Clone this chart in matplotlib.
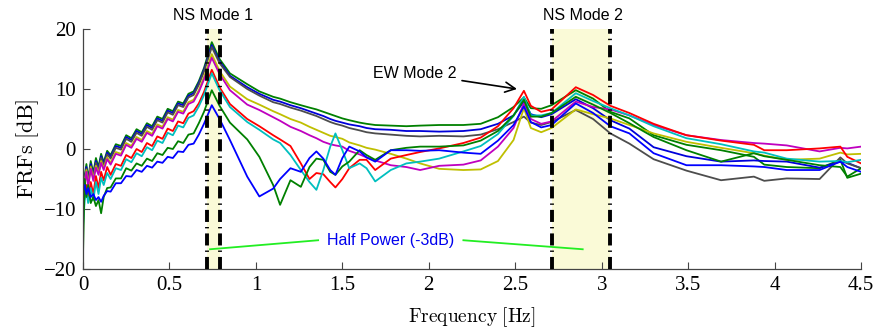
import numpy as np
import matplotlib.pyplot as plt

plt.rcParams['mathtext.fontset'] = 'cm'

# frequency grid [Hz]
freq = [0, 0.01, 0.02, 0.03, 0.045, 0.06, 0.075, 0.09, 0.105, 0.12, 0.14,
        0.16, 0.19, 0.22, 0.25, 0.28, 0.31, 0.34, 0.37, 0.40, 0.43, 0.46, 0.49, 0.52, 0.55,
        0.58, 0.61, 0.64, 0.67,
        0.7, 0.745, 0.79, 0.85, 0.95, 1.02, 1.1, 1.14, 1.2, 1.26, 1.31,
        1.35, 1.39, 1.43, 1.46, 1.5, 1.54, 1.6, 1.64, 1.69, 1.78, 1.87, 1.95, 2.06, 2.2, 2.3,
        2.4, 2.49, 2.55, 2.59, 2.65, 2.71, 2.85, 2.95, 3.05, 3.16, 3.3, 3.49, 3.69, 3.88, 3.94,
        4.07, 4.26, 4.38, 4.42, 4.5]

# FRF magnitudes [dB] per sensor
frf_green1 = [-8, -4.5, -2.5, -5.0, -2.0, -4.0, -1.5, -3.0, -0.8, -2.2, -0.3,
              -1.0, 0.8, 0.5, 2.3, 1.8, 3.3, 2.8, 4.3, 3.8, 5.4, 5.0, 6.7, 6.3, 7.9,
              7.6, 9.2, 9.6, 11.3,
              13.5, 17.8, 15.0, 12.6, 10.8, 9.6, 8.7, 8.4, 7.8, 7.3, 6.9,
              6.6, 6.2, 5.8, 5.5, 5.1, 4.8, 4.4, 4.2, 4.0, 3.9, 3.8, 3.9, 4.0, 4.0, 4.2,
              5.3, 7.0, 8.6, 6.8, 6.7, 7.3, 9.8, 8.4, 6.2, 5.1, 2.3, 0.7, -0.2, -1.3, -2.6,
              -3.0, -3.2, -1.8, -4.8, -4.1]
frf_blue1 = [-8.5, -5.0, -3.0, -5.5, -2.5, -4.3, -2.0, -3.3, -1.2, -2.5, -0.6,
             -1.3, 0.5, 0.2, 2.0, 1.5, 3.0, 2.5, 4.0, 3.5, 5.1, 4.7, 6.4, 6.0, 7.6,
             7.3, 8.9, 9.3, 11.0,
             13.2, 17.3, 14.6, 12.2, 10.3, 9.2, 8.2, 7.9, 7.3, 6.8, 6.3,
             5.9, 5.5, 5.0, 4.7, 4.4, 4.1, 3.8, 3.5, 3.3, 3.2, 3.0, 3.0, 2.9, 3.0, 3.3,
             4.2, 5.6, 7.9, 5.8, 5.3, 5.8, 8.3, 6.8, 4.8, 3.4, 0.3, -1.2, -2.1, -1.9, -2.0,
             -2.1, -3.1, -2.1, -2.3, -3.2]
frf_gray = [-9.0, -5.3, -3.3, -5.8, -2.8, -4.6, -2.3, -3.6, -1.5, -2.8, -0.9,
            -1.6, 0.2, -0.1, 1.7, 1.2, 2.7, 2.2, 3.7, 3.2, 4.8, 4.4, 6.1, 5.7, 7.3,
            7.0, 8.6, 9.0, 10.7,
            12.9, 17.0, 14.3, 12.0, 10.0, 8.9, 7.8, 7.5, 6.9, 6.4, 5.9,
            5.5, 5.0, 4.5, 4.2, 3.9, 3.5, 3.1, 2.8, 2.6, 2.4, 2.2, 2.1, 2.2, 2.1, 2.4,
            3.3, 4.5, 5.4, 4.4, 4.0, 4.5, 6.5, 5.0, 2.6, 0.9, -1.7, -3.6, -5.2, -4.6, -5.3,
            -4.9, -5.0, -1.4, -2.4, -3.2]
frf_yellow = [-8.0, -5.5, -3.5, -6.0, -3.0, -5.0, -2.8, -4.0, -2.0, -3.2, -1.4,
              -2.3, -0.5, -0.8, 1.0, 0.5, 2.0, 1.5, 3.0, 2.5, 4.1, 3.7, 5.3, 4.9, 6.5,
              6.2, 7.8, 8.2, 9.8,
              12.0, 15.8, 13.0, 10.4, 8.3, 7.4, 6.3, 5.8, 5.0, 4.4, 3.7,
              3.2, 2.7, 2.2, 2.0, 1.7, 1.1, 0.6, 0.2, -0.1, -0.8, -1.6, -2.4, -3.3, -3.5, -3.4,
              -2.0, 1.5, 6.8, 3.5, 2.8, 3.5, 6.6, 5.8, 5.1, 4.0, 2.6, 1.2, 0.2, -0.7, -1.1,
              -1.8, -1.6, -0.6, -0.9, -0.8]
frf_magenta = [-8.3, -5.8, -3.8, -6.3, -3.3, -5.3, -3.1, -4.3, -2.3, -3.5, -1.7,
               -2.6, -0.8, -1.1, 0.7, 0.2, 1.7, 1.2, 2.7, 2.2, 3.8, 3.4, 5.0, 4.6, 6.2,
               5.9, 7.5, 7.9, 9.5,
               11.6, 15.2, 12.5, 9.8, 7.4, 6.5, 5.3, 4.7, 3.7, 3.0, 2.3,
               1.8, 1.2, 0.8, 0.6, 0.4, -0.3, -0.9, -1.4, -1.9, -2.7, -3.0, -3.5, -2.8, -2.6, -1.9,
               0.4, 3.5, 7.6, 5.0, 4.2, 4.6, 7.9, 7.0, 6.6, 5.6, 4.0, 2.3, 1.5, 1.0, 0.9,
               0.6, -0.4, 0.2, 0.1, 0.4]
frf_red = [-9.5, -8.0, -6.0, -8.5, -5.5, -7.5, -4.5, -6.5, -3.8, -5.2, -3.0,
           -4.3, -2.5, -2.8, -1.0, -1.5, 0.0, -0.5, 1.0, 0.5, 2.1, 1.7, 3.4, 3.0, 4.6,
           4.3, 5.9, 6.3, 7.6,
           9.5, 13.2, 10.3, 7.5, 5.0, 3.8, 2.3, 1.6, 0.5, -2.4, -5.0,
           -4.0, -4.2, -5.5, -6.4, -5.0, -3.2, -1.8, -1.8, -3.5, -1.6, -1.0, -0.5, 0.1, 1.0, 1.9,
           3.8, 6.8, 9.7, 7.2, 6.2, 6.6, 10.3, 9.0, 7.2, 6.0, 4.2, 2.3, 1.4, 0.7, -0.2,
           -0.2, 0.1, 0.4, -1.3, -2.4]
frf_cyan = [-13.0, -8.5, -7.0, -9.0, -6.5, -8.5, -5.5, -7.5, -4.8, -6.0, -4.0,
            -5.0, -3.2, -3.5, -1.7, -2.2, -0.7, -1.2, 0.3, -0.2, 1.4, 1.0, 2.7, 2.3, 3.9,
            3.6, 5.2, 5.6, 7.1,
            9.0, 12.6, 9.8, 7.0, 4.5, 3.2, 1.6, 1.0, -1.0, -3.5, -5.5,
            -6.8, -3.5, 0.4, 2.6, -0.2, -3.2, -2.4, -3.2, -5.4, -3.5, -2.4, -2.1, -1.6, -0.4, 0.5,
            2.5, 5.5, 8.7, 5.6, 5.6, 6.0, 9.3, 8.0, 6.8, 5.6, 3.8, 1.8, 0.8, -0.4, -0.6,
            -1.6, -2.1, -2.0, -2.2, -1.8]
frf_green2 = [-18.0, -5.0, -8.0, -6.0, -9.0, -8.0, -9.5, -8.5, -10.7, -8.0, -6.5,
              -6.4, -4.9, -4.9, -3.2, -3.6, -2.4, -2.8, -1.6, -2.0, -0.7, -1.0, 0.2, 0.0, 1.3,
              1.0, 2.4, 2.6, 4.3,
              6.2, 9.8, 7.2, 4.4, 1.6, -1.3, -6.0, -9.3, -5.2, -6.3, -3.0,
              -1.6, -1.8, -3.8, -4.3, -2.9, -2.1, -0.2, -1.0, -1.8, -0.2, 0.2, 0.4, 0.4, 0.6, 1.4,
              3.0, 5.6, 8.2, 5.4, 5.4, 6.0, 8.7, 7.4, 6.0, 4.3, 2.0, -0.2, -2.1, -0.7, -1.2,
              -1.8, -2.7, -3.0, -4.6, -3.2]
frf_blue2 = [-7.0, -6.0, -7.5, -6.5, -8.0, -7.5, -8.5, -8.0, -8.8, -7.8, -7.0,
             -7.1, -5.7, -5.7, -4.5, -4.6, -3.5, -3.8, -2.8, -3.1, -2.1, -2.3, -1.3, -1.5, -0.4,
             -0.5, 0.7, 0.9, 2.4,
             4.2, 7.3, 5.0, 1.5, -4.6, -7.9, -6.6, -5.0, -3.2, -3.8, -1.5,
             -0.4, -1.6, -3.5, -4.3, -1.5, 0.4, -0.4, -1.4, -2.1, -0.2, -0.2, -0.3, -0.2, -0.6, -0.8,
             1.4, 4.0, 7.1, 4.5, 3.6, 4.0, 7.6, 6.0, 3.8, 2.6, -0.7, -2.7, -2.7, -2.9, -3.0,
             -3.5, -3.5, -2.1, -3.0, -3.8]

series = [
    (frf_green1, (0, 0.5, 0)),
    (frf_blue1, (0, 0, 0.85)),
    (frf_gray, (0.3, 0.3, 0.3)),
    (frf_yellow, (0.75, 0.75, 0)),
    (frf_magenta, (0.75, 0, 0.75)),
    (frf_red, (1, 0, 0)),
    (frf_cyan, (0, 0.75, 0.75)),
    (frf_green2, (0, 0.5, 0)),
    (frf_blue2, (0, 0, 1)),
]

# half-power bandwidths of the NS modes [Hz]
ns1_band = [0.717, 0.792]
ns2_band = [2.712, 3.048]

fig = plt.figure(figsize=(8.76, 3.33), dpi=100)
ax = fig.add_axes([0.0947, 0.192, 0.8883, 0.721])

for band in [ns1_band, ns2_band]:
    ax.axvspan(band[0], band[1], color='#fafad7', zorder=0, lw=0)

for vals, col in series:
    ax.plot(freq, vals, color=col, lw=1.3, zorder=2)

for band in [ns1_band, ns2_band]:
    for xb in band:
        ax.plot([xb, xb], [-20, 20], color='k', lw=2.8,
                linestyle=(0, (3.1, 1.3, 0.35, 1.3)), zorder=3, clip_on=False)

ax.text(0.752, 22.2, 'NS Mode 1', ha='center', va='center', fontsize=11.5,
        family='Liberation Sans')
ax.text(2.89, 22.2, 'NS Mode 2', ha='center', va='center', fontsize=11.5,
        family='Liberation Sans')

ax.annotate('EW Mode 2', xy=(2.51, 10.0), xytext=(2.16, 12.6), ha='right', va='center',
            fontsize=11.5, family='Liberation Sans',
            arrowprops=dict(arrowstyle='->', color='k', lw=1.2, mutation_scale=18,
                            shrinkA=2, shrinkB=0))

ax.text(1.78, -15.3, 'Half Power (-3dB)', ha='center', va='center', fontsize=11.5,
        color='#0000ee', family='Liberation Sans')
ax.plot([0.735, 1.36], [-16.7, -15.2], color='#22ee22', lw=1.3, zorder=4)
ax.plot([2.20, 2.89], [-15.2, -16.7], color='#22ee22', lw=1.3, zorder=4)

ax.set_xlim(0, 4.5)
ax.set_ylim(-20, 20)
ax.set_xticks([0, 0.5, 1, 1.5, 2, 2.5, 3, 3.5, 4, 4.5])
ax.set_xticklabels(['0', '0.5', '1', '1.5', '2', '2.5', '3', '3.5', '4', '4.5'])
ax.set_yticks([-20, -10, 0, 10, 20])
ax.tick_params(direction='in', length=5, width=0.8, color='#444444', labelsize=15, pad=5)
for lbl in ax.get_xticklabels() + ax.get_yticklabels():
    lbl.set_family('Liberation Serif')

for side in ['top', 'right']:
    ax.spines[side].set_visible(False)
for side in ['left', 'bottom']:
    ax.spines[side].set_color('#444444')
    ax.spines[side].set_linewidth(0.9)

ax.set_xlabel(r'$\mathrm{Frequency\ [Hz]}$', fontsize=14, labelpad=7)
ax.set_ylabel(r'$\mathrm{FRFs\ [dB]}$', fontsize=16, labelpad=2)

fig.savefig('out.png', dpi=100)
